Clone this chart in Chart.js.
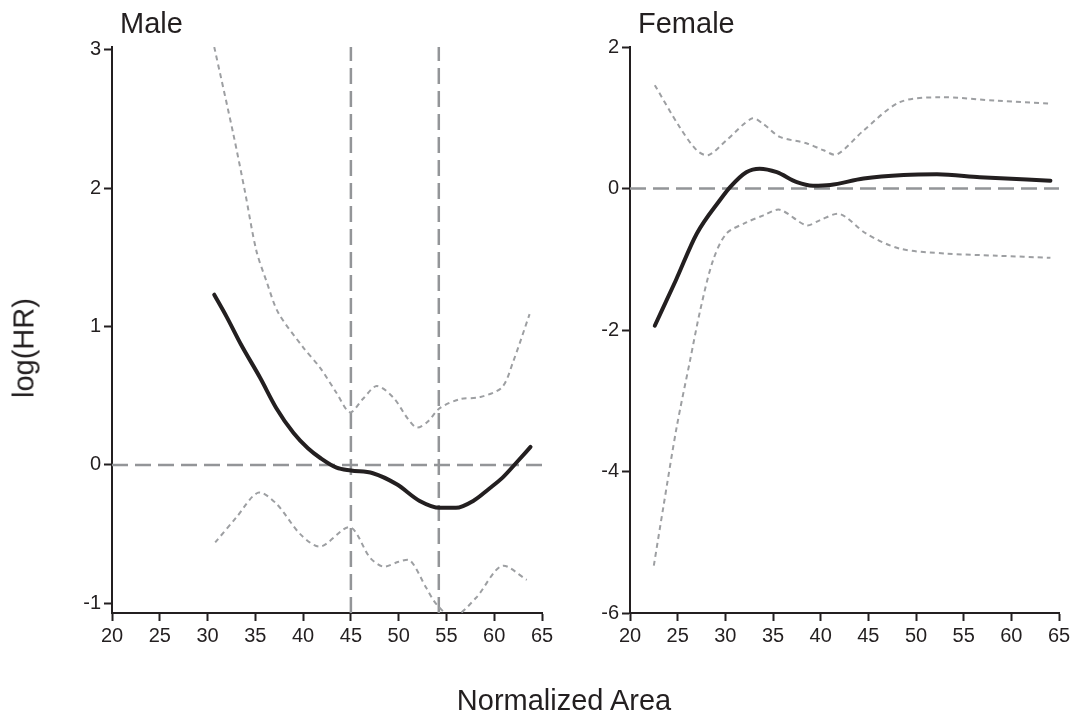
<!DOCTYPE html>
<html>
<head>
<meta charset="utf-8">
<script src="https://cdn.jsdelivr.net/npm/chart.js@4/dist/chart.umd.min.js"></script>
<style>
  html, body { margin: 0; padding: 0; background: #fff; }
  #wrap { position: relative; width: 1077px; height: 719px; overflow: hidden;
          font-family: "Liberation Sans", Arial, sans-serif; color: #231f20; }
  canvas { position: absolute; top: 0; }
  .lbl { position: absolute; white-space: nowrap; line-height: 1; }
</style>
</head>
<body>
<div id="wrap">
  <canvas id="maleChart" style="left:0px" width="562" height="719"></canvas>
  <canvas id="femaleChart" style="left:570px" width="507" height="719"></canvas>
  <div class="lbl" style="left:120px; top:9px; font-size:29px;">Male</div>
  <div class="lbl" style="left:638px; top:9px; font-size:29px;">Female</div>
  <div class="lbl" style="left:24px; top:348px; font-size:29px; transform: translate(-50%, -50%) rotate(-90deg);">log(HR)</div>
  <div class="lbl" style="left:564px; top:686px; font-size:29px; transform: translateX(-50%);">Normalized Area</div>
</div>
<script>
// x ticks shared by both panels
const xTicks = [20, 25, 30, 35, 40, 45, 50, 55, 60, 65];

// Male panel
const maleYTicks = [-1, 0, 1, 2, 3];
const maleRefX = [45, 54.2];
const maleFitX = [30.7, 32.0, 33.5, 35.5, 37.2, 39.0, 40.5, 41.8, 43.5, 45.0, 47.3, 49.8, 52.2, 54.3, 56.0, 57.8, 59.5, 60.9, 62.5, 63.8];
const maleFitY = [1.23, 1.07, 0.87, 0.63, 0.41, 0.23, 0.12, 0.05, -0.02, -0.04, -0.06, -0.14, -0.26, -0.31, -0.31, -0.26, -0.17, -0.09, 0.03, 0.13];
const maleUpX = [30.7, 32.7, 33.9, 35.1, 36.2, 37.4, 40.0, 41.8, 43.5, 44.9, 46.3, 47.7, 49.4, 51.0, 51.9, 53.0, 54.3, 56.4, 58.5, 60.8, 62.0, 63.7];
const maleUpY = [3.02, 2.39, 1.98, 1.55, 1.32, 1.10, 0.85, 0.70, 0.52, 0.38, 0.48, 0.57, 0.49, 0.33, 0.27, 0.31, 0.41, 0.475, 0.49, 0.56, 0.75, 1.09];
const maleLoX = [30.8, 33.0, 35.3, 37.2, 39.7, 41.8, 44.9, 47.0, 48.4, 50.0, 51.2, 52.9, 54.0, 55.7, 58.1, 60.8, 63.4];
const maleLoY = [-0.56, -0.38, -0.20, -0.28, -0.50, -0.59, -0.45, -0.67, -0.735, -0.70, -0.69, -0.89, -1.01, -1.10, -0.96, -0.73, -0.83];

// Female panel
const femaleYTicks = [-6, -4, -2, 0, 2];
const femaleFitX = [22.6, 24.8, 27.0, 29.4, 30.5, 32.2, 33.6, 35.4, 37.5, 39.2, 41.0, 44.5, 48.7, 52.2, 56.7, 64.1];
const femaleFitY = [-1.94, -1.30, -0.64, -0.17, 0.02, 0.23, 0.28, 0.23, 0.09, 0.04, 0.05, 0.14, 0.19, 0.20, 0.16, 0.11];
const femaleUpX = [22.6, 25.2, 27.0, 28.2, 30.1, 32.8, 34.0, 35.7, 38.5, 40.3, 41.7, 44.5, 48.3, 52.5, 58.5, 64.1];
const femaleUpY = [1.46, 0.87, 0.54, 0.47, 0.68, 0.99, 0.91, 0.73, 0.64, 0.54, 0.48, 0.82, 1.22, 1.29, 1.24, 1.20];
const femaleLoX = [22.5, 23.5, 24.9, 26.3, 27.4, 28.7, 30.1, 32.2, 34.0, 35.7, 38.5, 39.9, 42.0, 44.8, 48.3, 53.2, 58.5, 64.1];
const femaleLoY = [-5.33, -4.5, -3.37, -2.43, -1.70, -1.02, -0.64, -0.48, -0.38, -0.30, -0.52, -0.45, -0.36, -0.64, -0.85, -0.92, -0.95, -0.98];

const ink = '#231f20';
const grey = '#939598';
const ciGrey = '#9d9fa2';

function pts(xs, ys) {
  return xs.map((x, i) => ({ x: x, y: ys[i] }));
}

function fitLine(xs, ys) {
  return { data: pts(xs, ys), borderColor: ink, borderWidth: 4, pointRadius: 0,
           cubicInterpolationMode: 'monotone', borderCapStyle: 'round', fill: false };
}

function ciLine(xs, ys) {
  return { data: pts(xs, ys), borderColor: ciGrey, borderWidth: 2, borderDash: [5, 4],
           pointRadius: 0, tension: 0.3, fill: false };
}

function refLine(data) {
  return { data: data, borderColor: grey, borderWidth: 2.5, borderDash: [16, 7],
           pointRadius: 0, tension: 0, fill: false };
}

function makeChart(id, datasets, yMin, yMax, yTicks, padLeft, yWidth, padRight) {
  const tickFont = { family: '"Liberation Sans", Arial, sans-serif', size: 20 };
  return new Chart(document.getElementById(id).getContext('2d'), {
    type: 'line',
    data: { datasets: datasets },
    options: {
      responsive: false,
      animation: false,
      events: [],
      layout: { padding: { top: 47, left: padLeft, right: padRight, bottom: 66 } },
      plugins: { legend: { display: false }, tooltip: { enabled: false } },
      scales: {
        x: {
          type: 'linear', min: xTicks[0], max: xTicks[xTicks.length - 1],
          afterBuildTicks: function(scale) { scale.ticks = xTicks.map(v => ({ value: v })); },
          afterFit: function(scale) { scale.height = 40; },
          border: { color: ink, width: 2 },
          grid: { drawOnChartArea: false, tickLength: 8, tickColor: ink, tickWidth: 2 },
          ticks: { color: ink, font: tickFont, padding: 3, maxRotation: 0 }
        },
        y: {
          type: 'linear', min: yMin, max: yMax,
          afterBuildTicks: function(scale) { scale.ticks = yTicks.map(v => ({ value: v })); },
          afterFit: function(scale) { scale.width = yWidth; },
          border: { color: ink, width: 2 },
          grid: { drawOnChartArea: false, tickLength: 8, tickColor: ink, tickWidth: 2 },
          ticks: { color: ink, font: tickFont, padding: 3 }
        }
      }
    }
  });
}

const maleMin = -1.07, maleMax = 3.02;
const maleSets = [
  fitLine(maleFitX, maleFitY),
  ciLine(maleUpX, maleUpY),
  ciLine(maleLoX, maleLoY),
  refLine([{ x: xTicks[0], y: 0 }, { x: xTicks[xTicks.length - 1], y: 0 }])
].concat(maleRefX.map(v => refLine([{ x: v, y: maleMin }, { x: v, y: maleMax }])));
makeChart('maleChart', maleSets, maleMin, maleMax, maleYTicks, 60, 52, 20);

const femaleSets = [
  fitLine(femaleFitX, femaleFitY),
  ciLine(femaleUpX, femaleUpY),
  ciLine(femaleLoX, femaleLoY),
  refLine([{ x: xTicks[0], y: 0 }, { x: xTicks[xTicks.length - 1], y: 0 }])
];
makeChart('femaleChart', femaleSets, -6, 2, femaleYTicks, 10, 50, 18);
</script>
</body>
</html>
